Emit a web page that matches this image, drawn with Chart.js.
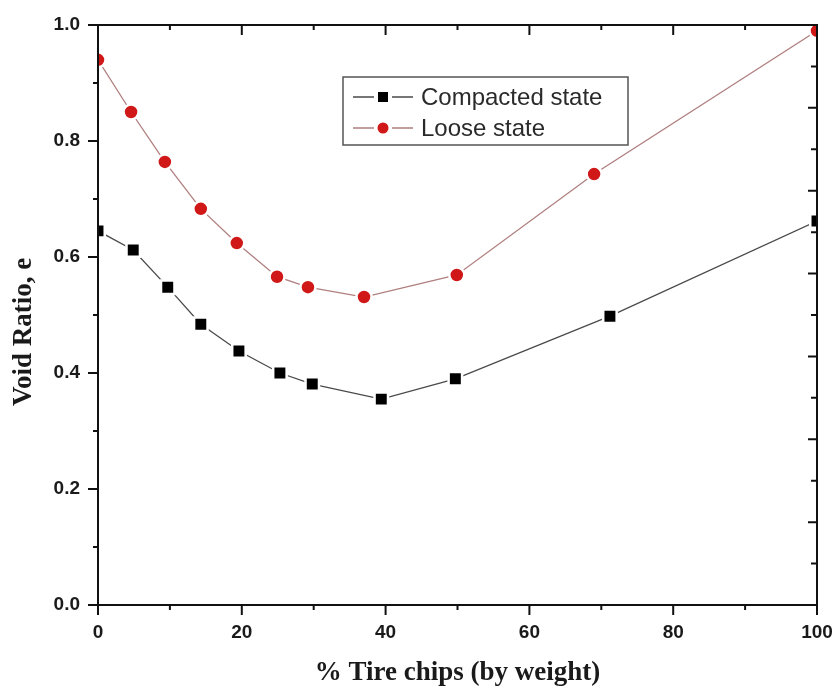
<!DOCTYPE html>
<html>
<head>
<meta charset="utf-8">
<title>Void ratio vs tire chips</title>
<script src="https://cdn.jsdelivr.net/npm/chart.js@4.4.0/dist/chart.umd.min.js"></script>
<style>
  html, body { margin: 0; padding: 0; background: #fff; }
  #wrap { width: 836px; height: 689px; }
</style>
</head>
<body>
<div id="wrap"><canvas id="voidChart" width="836" height="689"></canvas></div>
<script>
// values
const COMPACT_X = [0, 4.9, 9.7, 14.3, 19.6, 25.3, 29.8, 39.4, 49.7, 71.2, 100];
const COMPACT_E = [0.645, 0.612, 0.548, 0.484, 0.438, 0.400, 0.381, 0.355, 0.390, 0.498, 0.662];
const LOOSE_X = [0, 4.6, 9.3, 14.3, 19.3, 24.9, 29.2, 37.0, 49.9, 69.0, 100];
const LOOSE_E = [0.940, 0.850, 0.764, 0.683, 0.624, 0.566, 0.548, 0.531, 0.569, 0.743, 0.990];
const SERIES_NAMES = ['Compacted state', 'Loose state'];
const X_TICKS = [0, 20, 40, 60, 80, 100];
const Y_TICKS = [0, 0.2, 0.4, 0.6, 0.8, 1.0];

const TICK_FONT = { family: '"Liberation Sans", Arial, sans-serif', size: 19, weight: 'bold' };
const TITLE_FONT = { family: '"Liberation Serif", "Times New Roman", serif', size: 27, weight: 'bold' };

function toPoints(xs, ys){ return xs.map((x, i) => ({ x: x, y: ys[i] })); }

// frame + Origin-style ticks (out on left/bottom, in on top/right)
const frameTicks = {
  id: 'frameTicks',
  afterDatasetsDraw(chart){
    const { ctx, chartArea: a, scales: { x, y } } = chart;
    ctx.save();
    ctx.strokeStyle = '#111';
    ctx.lineWidth = 2;
    ctx.strokeRect(a.left, a.top, a.right - a.left, a.bottom - a.top);
    ctx.beginPath();
    for (let v = 0; v <= 100; v += 10) {
      const px = x.getPixelForValue(v);
      const len = v % 20 === 0 ? 10 : 5;
      ctx.moveTo(px, a.bottom); ctx.lineTo(px, a.bottom + len);
      ctx.moveTo(px, a.top); ctx.lineTo(px, a.top + len);
    }
    for (let k = 0; k <= 10; k++) {
      const py = y.getPixelForValue(k / 10);
      const len = k % 2 === 0 ? 10 : 5;
      ctx.moveTo(a.left, py); ctx.lineTo(a.left - len, py);
    }
    // the right axis in the original has 14 divisions
    for (let k = 0; k <= 14; k++) {
      const py = a.bottom - (a.bottom - a.top) * k / 14;
      const len = k % 2 === 0 ? 9 : 6;
      ctx.moveTo(a.right, py); ctx.lineTo(a.right - len, py);
    }
    ctx.stroke();
    ctx.restore();
  }
};

// boxed legend inside the plot area
const boxLegend = {
  id: 'boxLegend',
  afterDraw(chart){
    const { ctx, chartArea: a } = chart;
    const left = a.left + 245, top = a.top + 52, w = 285, h = 68;
    ctx.save();
    ctx.fillStyle = '#fff';
    ctx.fillRect(left, top, w, h);
    ctx.strokeStyle = '#555';
    ctx.lineWidth = 1.5;
    ctx.strokeRect(left, top, w, h);
    ctx.font = '24px "Liberation Sans", Arial, sans-serif';
    ctx.textBaseline = 'middle';
    chart.data.datasets.forEach((ds, i) => {
      const cy = top + 20 + i * 31;
      const mx = left + 40;
      ctx.strokeStyle = ds.borderColor;
      ctx.lineWidth = 1.3;
      ctx.beginPath();
      ctx.moveTo(left + 10, cy); ctx.lineTo(left + 31, cy);
      ctx.moveTo(left + 49, cy); ctx.lineTo(left + 70, cy);
      ctx.stroke();
      ctx.fillStyle = ds.pointBackgroundColor;
      if (ds.pointStyle === 'rect') ctx.fillRect(mx - 5, cy - 5, 10, 10);
      else { ctx.beginPath(); ctx.arc(mx, cy, 5.5, 0, Math.PI * 2); ctx.fill(); }
      ctx.fillStyle = '#2a2a2a';
      ctx.fillText(ds.label, left + 78, cy + 1);
    });
    ctx.restore();
  }
};

const ctx = document.getElementById('voidChart').getContext('2d');
new Chart(ctx, {
  type: 'line',
  data: {
    datasets: [
      {
        label: SERIES_NAMES[0],
        data: toPoints(COMPACT_X, COMPACT_E),
        borderColor: '#4a4a4a',
        borderWidth: 1.3,
        pointStyle: 'rect',
        pointRadius: 9.5,
        pointBackgroundColor: '#000',
        pointBorderColor: '#fff',
        pointBorderWidth: 2.5,
        tension: 0,
        fill: false
      },
      {
        label: SERIES_NAMES[1],
        data: toPoints(LOOSE_X, LOOSE_E),
        borderColor: '#b07f7f',
        borderWidth: 1.3,
        pointStyle: 'circle',
        pointRadius: 7.5,
        pointBackgroundColor: '#d01818',
        pointBorderColor: '#fff',
        pointBorderWidth: 2.5,
        tension: 0,
        fill: false
      }
    ]
  },
  options: {
    responsive: false,
    animation: false,
    layout: { padding: { left: 0, top: 25, right: 19, bottom: 0 } },
    plugins: { legend: { display: false }, tooltip: { enabled: false } },
    scales: {
      x: {
        type: 'linear', min: 0, max: 100,
        afterBuildTicks: s => { s.ticks = X_TICKS.map(v => ({ value: v })); },
        afterFit: s => { s.height = 84; s.paddingLeft = 0; s.paddingRight = 0; },
        grid: { display: false, drawTicks: false },
        border: { display: false },
        ticks: { padding: 16, color: '#1a1a1a', font: TICK_FONT, maxRotation: 0, callback: v => String(v) },
        title: { display: true, text: '% Tire chips (by weight)', color: '#1a1a1a', font: TITLE_FONT, padding: { top: 0, bottom: 0 } }
      },
      y: {
        type: 'linear', min: 0, max: 1,
        afterBuildTicks: s => { s.ticks = Y_TICKS.map(v => ({ value: v })); },
        afterFit: s => { s.width = 98; s.paddingTop = 0; s.paddingBottom = 0; },
        grid: { display: false, drawTicks: false },
        border: { display: false },
        ticks: { padding: 18, color: '#1a1a1a', font: TICK_FONT, callback: v => Number(v).toFixed(1) },
        // trailing no-break spaces nudge the centred title down, as in the original
        title: { display: true, text: 'Void Ratio, e\u00a0\u00a0\u00a0\u00a0\u00a0', color: '#1a1a1a', font: TITLE_FONT, padding: { top: 8, bottom: 0 } }
      }
    }
  },
  plugins: [frameTicks, boxLegend]
});
</script>
</body>
</html>
